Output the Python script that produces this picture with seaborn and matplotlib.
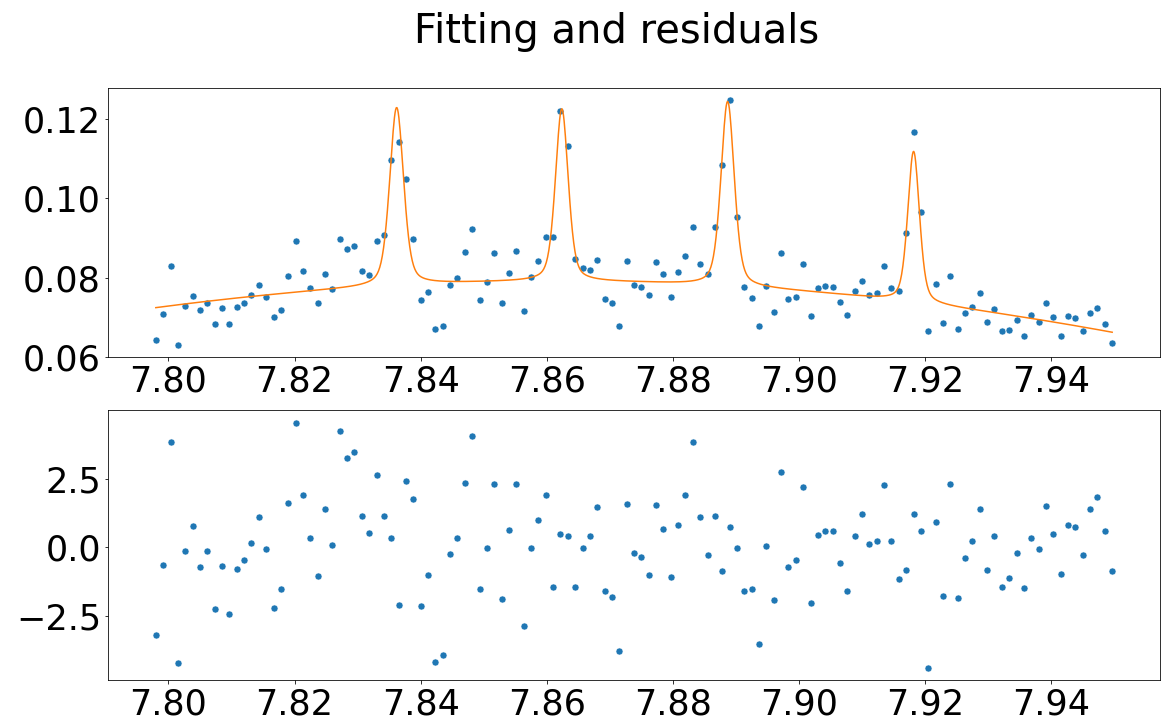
import numpy as np
import matplotlib
matplotlib.use("Agg")
import matplotlib.pyplot as plt
import seaborn as sns

# ---- data -------------------------------------------------------------
x_start, x_stop, n_points = 7.798, 7.9497, 131
x_data = np.linspace(x_start, x_stop, n_points)

y_data = [
    0.0643, 0.0709, 0.0830, 0.0630, 0.0728, 0.0754, 0.0718, 0.0735, 0.0682, 0.0724,
    0.0684, 0.0727, 0.0735, 0.0756, 0.0782, 0.0752, 0.0700, 0.0719, 0.0803, 0.0892,
    0.0817, 0.0774, 0.0737, 0.0809, 0.0771, 0.0897, 0.0873, 0.0880, 0.0817, 0.0807,
    0.0892, 0.0907, 0.1097, 0.1141, 0.1048, 0.0897, 0.0744, 0.0765, 0.0671, 0.0677,
    0.0781, 0.0798, 0.0865, 0.0923, 0.0743, 0.0789, 0.0863, 0.0735, 0.0811, 0.0866,
    0.0716, 0.0801, 0.0843, 0.0903, 0.0902, 0.1220, 0.1132, 0.0846, 0.0825, 0.0820,
    0.0844, 0.0746, 0.0737, 0.0679, 0.0841, 0.0782, 0.0776, 0.0755, 0.0839, 0.0809,
    0.0752, 0.0814, 0.0854, 0.0927, 0.0835, 0.0808, 0.0927, 0.1084, 0.1248, 0.0954,
    0.0776, 0.0749, 0.0677, 0.0779, 0.0714, 0.0863, 0.0747, 0.0752, 0.0835, 0.0702,
    0.0774, 0.0778, 0.0776, 0.0739, 0.0706, 0.0766, 0.0791, 0.0756, 0.0760, 0.0830,
    0.0774, 0.0766, 0.0912, 0.1168, 0.0966, 0.0665, 0.0784, 0.0686, 0.0805, 0.0671,
    0.0711, 0.0725, 0.0760, 0.0687, 0.0722, 0.0665, 0.0669, 0.0694, 0.0653, 0.0705,
    0.0689, 0.0735, 0.0700, 0.0653, 0.0703, 0.0698, 0.0665, 0.0712, 0.0723, 0.0682,
    0.0636,
]

residuals = [
    -3.20, -0.64, 3.85, -4.23, -0.15, 0.77, -0.72, -0.15, -2.27, -0.68,
    -2.45, -0.79, -0.48, 0.15, 1.11, -0.06, -2.23, -1.51, 1.62, 4.56,
    1.92, 0.33, -1.05, 1.41, 0.07, 4.24, 3.28, 3.50, 1.16, 0.51,
    2.66, 1.16, 0.35, -2.11, 2.43, 1.78, -2.16, -1.00, -4.18, -3.93,
    -0.25, 0.33, 2.36, 4.08, -1.54, -0.01, 2.32, -1.90, 0.63, 2.32,
    -2.87, -0.01, 1.00, 1.90, -1.46, 0.49, 0.40, -1.44, -0.04, 0.43,
    1.46, -1.59, -1.83, -3.79, 1.60, -0.22, -0.37, -1.02, 1.54, 0.68,
    -1.07, 0.82, 1.92, 3.85, 1.11, -0.29, 1.16, -0.87, 0.73, -0.01,
    -1.59, -1.54, -3.54, 0.04, -1.93, 2.76, -0.73, -0.48, 2.22, -2.04,
    0.44, 0.59, 0.61, -0.57, -1.61, 0.40, 1.21, 0.12, 0.22, 2.27,
    0.24, -1.15, -0.84, 1.23, 0.59, -4.42, 0.93, -1.79, 2.32, -1.84,
    -0.38, 0.22, 1.41, -0.84, 0.40, -1.46, -1.12, -0.22, -1.49, 0.33,
    -0.06, 1.52, 0.49, -0.97, 0.83, 0.74, -0.27, 1.39, 1.85, 0.61,
    -0.87,
]

# fitted model parameters (quadratic background + 4 pseudo-Voigt peaks)
bg_top = 0.0790
bg_center = 7.8614
bg_curvature = 1.642
peak_centers = [7.8362, 7.8624, 7.8887, 7.9182]
peak_heights = [0.0449, 0.0435, 0.0466, 0.0381]
peak_fwhm = [0.0026, 0.0024, 0.0025, 0.0022]
lorentz_fraction = 0.4

x_ticks = [7.80, 7.82, 7.84, 7.86, 7.88, 7.90, 7.92, 7.94]
top_yticks = [0.06, 0.08, 0.10, 0.12]
bottom_yticks = [-2.5, 0.0, 2.5]
title = "Fitting and residuals"

# ---- model curve -------------------------------------------------------
x_fit = np.linspace(x_start, x_stop, 1500)
y_fit = bg_top - bg_curvature * (x_fit - bg_center) ** 2
for c, h, w in zip(peak_centers, peak_heights, peak_fwhm):
    u = (x_fit - c) / (w / 2)
    lor = 1.0 / (1.0 + u ** 2)
    gau = np.exp(-np.log(2) * u ** 2)
    y_fit = y_fit + h * (lorentz_fraction * lor + (1 - lorentz_fraction) * gau)

# ---- figure -------------------------------------------------------------
W, H, DPI = 1171, 717, 72
fig = plt.figure(figsize=(W / DPI, H / DPI), dpi=DPI)
left = 108 / W
width = (1160 - 108) / W
ax1 = fig.add_axes([left, 1 - 357.3 / H, width, (357.3 - 87.7) / H])
ax2 = fig.add_axes([left, 1 - 680.4 / H, width, (680.4 - 410.4) / H])

blue = "#1f77b4"
orange = "#ff7f0e"

sns.scatterplot(x=x_data, y=y_data, ax=ax1, color=blue, s=50, linewidth=0.6)
sns.lineplot(x=x_fit, y=y_fit, ax=ax1, color=orange, linewidth=1.5)
sns.scatterplot(x=x_data, y=residuals, ax=ax2, color=blue, s=50, linewidth=0.6)

for ax, yt in ((ax1, top_yticks), (ax2, bottom_yticks)):
    ax.set_xticks(x_ticks)
    ax.set_xticklabels([f"{v:.2f}" for v in x_ticks])
    ax.set_yticks(yt)
    ax.tick_params(labelsize=35)
    ax.set_xlabel("")
    ax.set_ylabel("")

ax1.set_yticklabels([f"{v:.2f}" for v in top_yticks])
ax2.set_yticklabels([f"{v:.1f}".replace("-", "\u2212") for v in bottom_yticks])

fig.text(617 / W, 1 - 43 / H, title, fontsize=40, ha="center", va="baseline")

fig.savefig("out.png", dpi=DPI)
